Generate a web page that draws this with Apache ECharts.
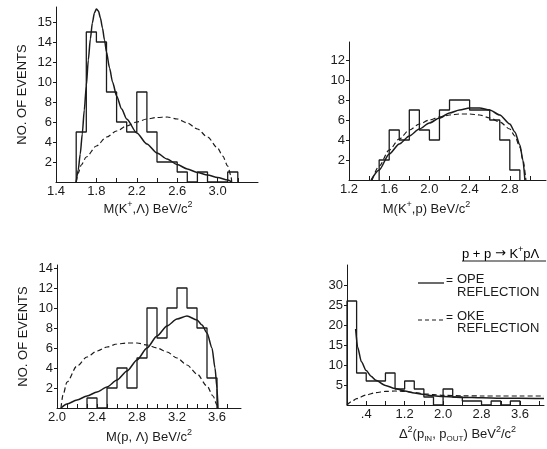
<!DOCTYPE html>
<html>
<head>
<meta charset="utf-8">
<script src="https://cdn.jsdelivr.net/npm/echarts@6/dist/echarts.min.js"></script>
<style>
  html, body { margin: 0; padding: 0; background: #fff; }
  #chart { width: 547px; height: 449px; }
</style>
</head>
<body>
<div id="chart"></div>
<script>
// ---- M(K+,Λ) distribution ----
const klEdges  = [1.6, 1.7, 1.8, 1.9, 2.0, 2.1, 2.2, 2.3, 2.4, 2.5, 2.6, 2.7, 2.8, 2.9, 3.0, 3.1, 3.2];
const klCounts = [5, 15, 14, 9, 6, 5, 9, 5, 2, 2, 1, 0, 1, 0, 0, 1];
const klOPE = [[1.6, 0], [1.62, 1.2], [1.64, 2.8], [1.66, 4.8], [1.68, 7.2], [1.7, 9.6], [1.72, 12.2],
  [1.74, 14.3], [1.76, 15.9], [1.78, 16.9], [1.8, 17.3], [1.82, 17.1], [1.84, 16.4], [1.86, 15.4],
  [1.88, 14.2], [1.9, 13.0], [1.93, 11.4], [1.96, 10.0], [2.0, 8.6], [2.05, 7.3], [2.1, 6.3],
  [2.2, 4.9], [2.3, 3.8], [2.4, 2.9], [2.5, 2.3], [2.6, 1.75], [2.7, 1.3], [2.8, 0.95], [2.9, 0.7],
  [3.0, 0.45], [3.1, 0.2], [3.14, 0]];
const klOKE = [[1.6, 0], [1.62, 0.9], [1.65, 1.7], [1.7, 2.5], [1.8, 3.6], [1.9, 4.5], [2.0, 5.1],
  [2.1, 5.6], [2.2, 6.0], [2.3, 6.3], [2.4, 6.45], [2.5, 6.5], [2.6, 6.3], [2.7, 5.9], [2.8, 5.3],
  [2.9, 4.5], [3.0, 3.4], [3.05, 2.6], [3.1, 1.6], [3.13, 0.7], [3.14, 0]];
const klXTicks = [1.4, 1.6, 1.8, 2.0, 2.2, 2.4, 2.6, 2.8, 3.0, 3.2];
const klXLabels = [1.4, 1.8, 2.2, 2.6, 3.0];
const klXText = ['1.4', '1.8', '2.2', '2.6', '3.0'];
const klYLabels = [2, 4, 6, 8, 10, 12, 14, 16];
const klYText = ['2', '4', '6', '8', '10', '12', '14', '15'];

// ---- M(K+,p) distribution ----
const kpEdges  = [1.5, 1.6, 1.7, 1.8, 1.9, 2.0, 2.1, 2.2, 2.3, 2.4, 2.5, 2.6, 2.7, 2.8, 2.9];
const kpCounts = [2, 5, 4, 7, 5, 4, 7, 8, 8, 7, 7, 6, 4, 1];
const kpOPE = [[1.42, 0], [1.5, 1.0], [1.6, 2.6], [1.7, 3.6], [1.8, 4.4], [1.9, 5.1], [2.0, 5.7],
  [2.1, 6.2], [2.2, 6.7], [2.3, 7.0], [2.4, 7.2], [2.5, 7.2], [2.6, 7.0], [2.7, 6.5], [2.8, 5.6],
  [2.85, 4.8], [2.9, 3.5], [2.93, 2.0], [2.95, 0]];
const kpOKE = [[1.43, 0], [1.5, 1.4], [1.6, 3.0], [1.7, 4.1], [1.8, 5.0], [1.9, 5.6], [2.0, 6.0],
  [2.1, 6.3], [2.2, 6.5], [2.3, 6.6], [2.4, 6.6], [2.5, 6.5], [2.6, 6.2], [2.7, 5.8], [2.8, 5.1],
  [2.85, 4.4], [2.9, 3.3], [2.93, 2.0], [2.96, 0]];
const kpXTicks = [1.2, 1.4, 1.6, 1.8, 2.0, 2.2, 2.4, 2.6, 2.8, 3.0];
const kpXLabels = [1.2, 1.6, 2.0, 2.4, 2.8];
const kpXText = ['1.2', '1.6', '2.0', '2.4', '2.8'];
const kpYLabels = [2, 4, 6, 8, 10, 12];
const kpYText = ['2', '4', '6', '8', '10', '12'];

// ---- M(p,Λ) distribution ----
const plEdges  = [2.3, 2.4, 2.5, 2.6, 2.7, 2.8, 2.9, 3.0, 3.1, 3.2, 3.3, 3.4, 3.5, 3.6];
const plCounts = [1, 0, 2, 4, 2, 5, 10, 7, 10, 12, 10, 8, 3];
const plOPE = [[2.04, 0], [2.1, 0.4], [2.2, 0.8], [2.3, 1.2], [2.4, 1.6], [2.5, 2.1], [2.6, 2.8],
  [2.7, 3.7], [2.8, 4.8], [2.9, 6.0], [3.0, 7.2], [3.1, 8.2], [3.2, 8.9], [3.3, 9.2], [3.4, 8.8],
  [3.45, 8.3], [3.5, 7.5], [3.55, 6.0], [3.58, 4.0], [3.6, 2.0], [3.61, 0]];
const plOKE = [[2.04, 0], [2.06, 1.3], [2.1, 2.6], [2.2, 4.2], [2.3, 5.1], [2.4, 5.7], [2.5, 6.1],
  [2.6, 6.4], [2.7, 6.5], [2.8, 6.5], [2.9, 6.3], [3.0, 6.0], [3.1, 5.6], [3.2, 5.0], [3.3, 4.3],
  [3.4, 3.4], [3.5, 2.2], [3.56, 1.2], [3.6, 0.3], [3.61, 0]];
const plXTicks = [2.0, 2.1, 2.2, 2.3, 2.4, 2.5, 2.6, 2.7, 2.8, 2.9, 3.0, 3.1, 3.2, 3.3, 3.4, 3.5, 3.6, 3.7];
const plXLabels = [2.0, 2.4, 2.8, 3.2, 3.6];
const plXText = ['2.0', '2.4', '2.8', '3.2', '3.6'];
const plYLabels = [2, 4, 6, 8, 10, 12, 14];
const plYText = ['2', '4', '6', '8', '10', '12', '14'];

// ---- Δ²(p_IN, p_OUT) distribution ----
const dEdges  = [0, 0.2, 0.4, 0.6, 0.8, 1.0, 1.2, 1.4, 1.6, 1.8, 2.0, 2.2, 2.4, 2.6, 2.8, 3.0, 3.2, 3.4, 3.6];
const dCounts = [26, 8, 6, 6, 8, 4, 6, 4, 2, 0, 4, 2, 1, 1, 0, 1, 0, 1];
const dOPE = [[0.18, 19], [0.22, 14.5], [0.3, 10.8], [0.4, 8.6], [0.5, 7.2], [0.6, 6.2], [0.8, 4.9],
  [1.0, 4.1], [1.2, 3.5], [1.4, 3.0], [1.6, 2.6], [1.8, 2.3], [2.0, 2.1], [2.4, 1.9], [2.8, 1.8],
  [3.2, 1.7], [3.6, 1.7], [4.1, 1.6]];
const dOKE = [[0, 0], [0.1, 0.9], [0.2, 1.6], [0.4, 2.5], [0.6, 3.1], [0.8, 3.4], [1.0, 3.5],
  [1.2, 3.4], [1.4, 3.1], [1.6, 2.8], [1.8, 2.6], [2.0, 2.4], [2.4, 2.3], [2.8, 2.25], [3.2, 2.25],
  [3.6, 2.25], [4.1, 2.25]];
const dXTicks = [0.4, 0.8, 1.2, 1.6, 2.0, 2.4, 2.8, 3.2, 3.6, 4.0];
const dXLabels = [0.4, 1.2, 2.0, 2.8, 3.6];
const dXText = ['.4', '1.2', '2.0', '2.8', '3.6'];
const dYLabels = [5, 10, 15, 20, 25, 30];
const dYText = ['5', '10', '15', '20', '25', '30'];

const FONT = '"Liberation Sans Narrow", "Liberation Sans", "DejaVu Sans", sans-serif';
const INK = '#1b1b1b';

// histogram outline as a stepped polyline: up at the first edge, across each bin, down at the last edge
function histPoints(edges, counts) {
  const pts = [[edges[0], 0]];
  counts.forEach((c, i) => pts.push([edges[i], c]));
  pts.push([edges[edges.length - 1], 0]);
  return pts;
}

function lookup(values, texts) {
  return v => {
    const i = values.findIndex(x => Math.abs(x - v) < 1e-6);
    return i < 0 ? '' : texts[i];
  };
}

const richName = {
  m:   { fontSize: 13, lineHeight: 18, fontFamily: FONT, color: INK },
  arr: { fontSize: 13, lineHeight: 18, fontFamily: '"DejaVu Sans", sans-serif', color: INK },
  sup: { fontSize: 9, lineHeight: 9, verticalAlign: 'top', fontFamily: FONT, color: INK },
  sub: { fontSize: 8, lineHeight: 8, verticalAlign: 'bottom', fontFamily: FONT, color: INK }
};

function xAxis(gi, min, max, ticks, labVals, labText, name, pad, gap) {
  return {
    type: 'value', gridIndex: gi, min, max,
    axisLine: { onZero: false, lineStyle: { color: INK, width: 1 } },
    axisTick: { show: true, inside: true, length: 4, customValues: ticks, lineStyle: { color: INK, width: 1 } },
    axisLabel: { customValues: labVals, formatter: lookup(labVals, labText), margin: 3,
                 fontSize: 13, fontFamily: FONT, color: INK },
    splitLine: { show: false },
    name, nameLocation: 'middle', nameGap: gap,
    nameTextStyle: { rich: richName, padding: pad }
  };
}

function yAxis(gi, max, labVals, labText, name) {
  return {
    type: 'value', gridIndex: gi, min: 0, max,
    axisLine: { onZero: false, lineStyle: { color: INK, width: 1 } },
    axisTick: { show: true, inside: false, length: 3, customValues: labVals, lineStyle: { color: INK, width: 1 } },
    axisLabel: { customValues: labVals, formatter: lookup(labVals, labText), margin: 4,
                 fontSize: 13, fontFamily: FONT, color: INK },
    splitLine: { show: false },
    name: name || '', nameLocation: 'middle', nameGap: 27, nameRotate: 90,
    nameTextStyle: { fontSize: 13, fontFamily: FONT, color: INK }
  };
}

function trio(i, edges, counts, ope, oke) {
  return [
    { type: 'line', xAxisIndex: i, yAxisIndex: i, data: histPoints(edges, counts), step: 'end',
      symbol: 'none', silent: true, lineStyle: { color: INK, width: 1.3 } },
    { type: 'line', xAxisIndex: i, yAxisIndex: i, data: ope, smooth: 0.25, smoothMonotone: 'x',
      symbol: 'none', silent: true, lineStyle: { color: INK, width: 1.5 } },
    { type: 'line', xAxisIndex: i, yAxisIndex: i, data: oke, smooth: 0.3, smoothMonotone: 'x',
      symbol: 'none', silent: true, lineStyle: { color: INK, width: 1.2, type: [5, 3] } }
  ];
}

const chart = echarts.init(document.getElementById('chart'), null, { renderer: 'canvas' });
chart.setOption({
  animation: false,
  backgroundColor: '#fff',
  grid: [
    { left: 56,  top: 7,   width: 202, height: 175 },
    { left: 349, top: 42,  width: 197, height: 138 },
    { left: 57,  top: 265, width: 184, height: 143 },
    { left: 347, top: 265, width: 197, height: 140 }
  ],
  xAxis: [
    xAxis(0, 1.4, 3.4, klXTicks, klXLabels, klXText,
      '{m|M(K}{sup|+}{m|,Λ) BeV/c}{sup|2}', [0, 18, 0, 0], 18),
    xAxis(1, 1.2, 3.16, kpXTicks, kpXLabels, kpXText,
      '{m|M(K}{sup|+}{m|,p) BeV/c}{sup|2}', [0, 42, 0, 0], 20),
    xAxis(2, 2.0, 3.84, plXTicks, plXLabels, plXText,
      '{m|M(p, Λ) BeV/c}{sup|2}', [0, 0, 0, 0], 20),
    xAxis(3, 0, 4.1, dXTicks, dXLabels, dXText,
      '{m|Δ}{sup|2}{m|(p}{sub|IN}{m|, p}{sub|OUT}{m|) BeV}{sup|2}{m|/c}{sup|2}', [0, 0, 0, 24], 20)
  ],
  yAxis: [
    yAxis(0, 17.5, klYLabels, klYText, 'NO. OF EVENTS'),
    yAxis(1, 13.8, kpYLabels, kpYText),
    yAxis(2, 14.3, plYLabels, plYText, 'NO. OF EVENTS'),
    yAxis(3, 35, dYLabels, dYText)
  ],
  series: [
    ...trio(0, klEdges, klCounts, klOPE, klOKE),
    ...trio(1, kpEdges, kpCounts, kpOPE, kpOKE),
    ...trio(2, plEdges, plCounts, plOPE, plOKE),
    ...trio(3, dEdges, dCounts, dOPE, dOKE)
  ],
  graphic: [
    { type: 'text', left: 462, top: 245, style: {
        text: '{m|p + p }{arr|→}{m| K}{sup|+}{m|pΛ}', rich: richName } },
    { type: 'line', shape: { x1: 462, y1: 261, x2: 546, y2: 261 }, style: { stroke: INK, lineWidth: 1 } },
    { type: 'line', shape: { x1: 418, y1: 283, x2: 444, y2: 283 }, style: { stroke: INK, lineWidth: 1.3 } },
    { type: 'text', left: 446, top: 275, style: { text: '=', font: '12px ' + FONT, fill: INK } },
    { type: 'text', left: 457, top: 273, style: { text: 'OPE', font: '13px ' + FONT, fill: INK } },
    { type: 'text', left: 457, top: 286, style: { text: 'REFLECTION', font: '13px ' + FONT, fill: INK } },
    { type: 'line', shape: { x1: 418, y1: 320, x2: 444, y2: 320 },
      style: { stroke: INK, lineWidth: 1.2, lineDash: [4, 3] } },
    { type: 'text', left: 446, top: 312, style: { text: '=', font: '12px ' + FONT, fill: INK } },
    { type: 'text', left: 457, top: 310, style: { text: 'OKE', font: '13px ' + FONT, fill: INK } },
    { type: 'text', left: 457, top: 322, style: { text: 'REFLECTION', font: '13px ' + FONT, fill: INK } }
  ]
});
</script>
</body>
</html>
